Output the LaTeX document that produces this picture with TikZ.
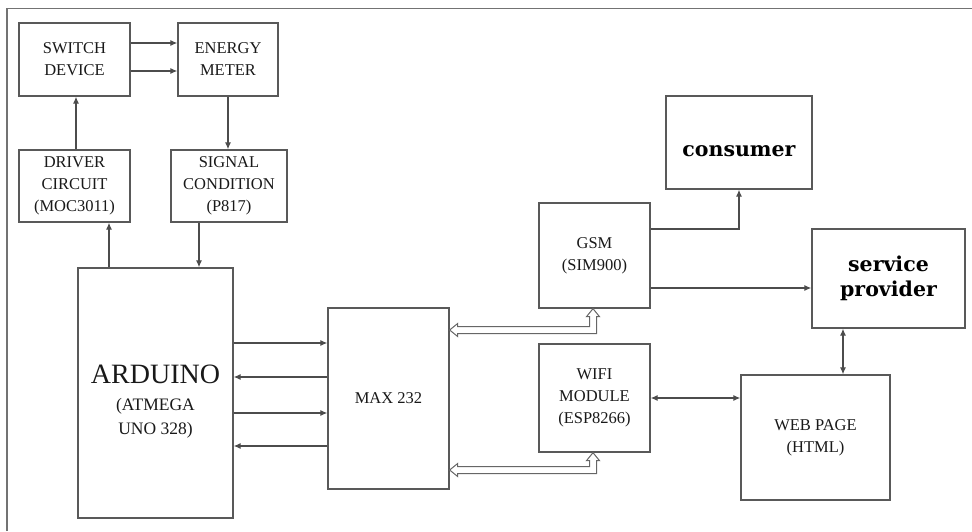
\documentclass[tikz,border=0pt]{standalone}
\usepackage{fontspec}
\setmainfont{Liberation Serif}
\newfontfamily\dvserif{DejaVu Serif}
\usetikzlibrary{arrows.meta,shadows,calc}
\begin{document}
\begin{tikzpicture}[x=1pt,y=-1pt,
  blk/.style={draw=black!65, line width=1.3pt, fill=white, align=center, inner sep=0pt,
    font=\fontsize{16.5}{22}\selectfont, text=black!90,
    drop shadow={shadow xshift=1.3pt, shadow yshift=-1.3pt, fill=black!25, opacity=1}},
  bigtxt/.style={font=\dvserif\bfseries\fontsize{20.5}{25}\selectfont, text=black},
  arr/.style={draw=black!70, line width=1.2pt, -{Latex[length=7pt,width=6pt]}},
  darr/.style={draw=black!70, line width=1.2pt, {Latex[length=7pt,width=6pt]}-{Latex[length=7pt,width=6pt]}},
  hollow/.style={draw=black!60, line width=1pt, fill=white, line join=miter},
  frame/.style={draw=black!55, line width=1.6pt}]
\useasboundingbox (0,0) rectangle (972,531);
% outer frame lines
\coordinate (fTL) at (7,8.5);
\coordinate (fTR) at (972,8.5);
\coordinate (fBL) at (7,531);
\draw[frame] (fBL) -- (fTL) -- (fTR);

% blocks
\node[blk, minimum width=111pt, minimum height=73pt] (switch) at (74.5,59.5) {SWITCH\\DEVICE};
\node[blk, minimum width=100pt, minimum height=73pt] (energy) at (228,59.5) {ENERGY\\METER};
\node[blk, minimum width=111pt, minimum height=72pt] (driver) at (74.5,186) {DRIVER\\CIRCUIT\\(MOC3011)};
\node[blk, minimum width=116pt, minimum height=72pt] (signal) at (229,186) {SIGNAL\\CONDITION\\(P817)};
\node[blk, minimum width=155pt, minimum height=250pt] (arduino) at (155.5,393)
  {\rule{0pt}{36pt}{\fontsize{28}{32}\selectfont ARDUINO}\\[5pt]{\fontsize{17.5}{25}\selectfont (ATMEGA}\\[2pt]{\fontsize{17.5}{25}\selectfont UNO 328)}};
\node[blk, minimum width=121pt, minimum height=181pt] (max) at (388.5,398.5) {MAX 232};
\node[blk, minimum width=111pt, minimum height=105pt] (gsm) at (594.5,255.5) {GSM\\(SIM900)};
\node[blk, minimum width=111pt, minimum height=108pt] (wifi) at (594.5,398) {WIFI\\MODULE\\(ESP8266)};
\node[blk, bigtxt, minimum width=146pt, minimum height=93pt] (consumer) at (739,142.5) {\rule{0pt}{29pt}consumer};
\node[blk, bigtxt, minimum width=153pt, minimum height=99pt] (service) at (888.5,278.5) {service\\provider};
\node[blk, minimum width=149pt, minimum height=125pt] (web) at (815.5,437.5) {WEB PAGE\\(HTML)};

% helper coordinates
\coordinate (ySE1) at (0,43);
\coordinate (ySE2) at (0,71);
\coordinate (xDS) at (76,0);
\coordinate (xDA) at (109,0);
\coordinate (xSA) at (199,0);
\coordinate (yAM1) at (0,343);
\coordinate (yAM2) at (0,377);
\coordinate (yAM3) at (0,413);
\coordinate (yAM4) at (0,446);
\coordinate (yMG) at (0,330);
\coordinate (yMW) at (0,470);
\coordinate (xMod) at (593,0);
\coordinate (yGC) at (0,229);
\coordinate (yGS) at (0,288);
\coordinate (xSW) at (843,0);

% connectors
\draw[arr] (switch.east |- ySE1) -- (energy.west |- ySE1);
\draw[arr] (switch.east |- ySE2) -- (energy.west |- ySE2);
\draw[arr] (driver.north -| xDS) -- (switch.south -| xDS);
\draw[arr] (energy.south) -- (energy.south |- signal.north);
\draw[arr] (arduino.north -| xDA) -- (driver.south -| xDA);
\draw[arr] (signal.south -| xSA) -- (arduino.north -| xSA);
\draw[arr] (arduino.east |- yAM1) -- (max.west |- yAM1);
\draw[arr] (max.west |- yAM2) -- (arduino.east |- yAM2);
\draw[arr] (arduino.east |- yAM3) -- (max.west |- yAM3);
\draw[arr] (max.west |- yAM4) -- (arduino.east |- yAM4);

% hollow double-headed bus arrows (MAX 232 <-> GSM, MAX 232 <-> WIFI)
\coordinate (sG) at (max.east |- yMG);
\coordinate (tG) at (gsm.south -| xMod);
\draw[hollow] (sG) -- ++(8,-6.5) -- ++(0,3) -- ($(xMod |- sG)+(-3.5,-3.5)$)
  -- ($(tG)+(-3.5,8)$) -- ++(-3,0) -- (tG) -- ($(tG)+(6.5,8)$) -- ++(-3,0)
  -- ($(xMod |- sG)+(3.5,3.5)$) -- ($(sG)+(8,3.5)$) -- ++(0,3) -- cycle;
\coordinate (sW) at (max.east |- yMW);
\coordinate (tW) at (wifi.south -| xMod);
\draw[hollow] (sW) -- ++(8,-6.5) -- ++(0,3) -- ($(xMod |- sW)+(-3.5,-3.5)$)
  -- ($(tW)+(-3.5,8)$) -- ++(-3,0) -- (tW) -- ($(tW)+(6.5,8)$) -- ++(-3,0)
  -- ($(xMod |- sW)+(3.5,3.5)$) -- ($(sW)+(8,3.5)$) -- ++(0,3) -- cycle;

\draw[arr] (gsm.east |- yGC) -| (consumer.south);
\draw[arr] (gsm.east |- yGS) -- (service.west |- yGS);
\draw[darr] (service.south -| xSW) -- (web.north -| xSW);
\draw[darr] (wifi.east) -- (web.west |- wifi.east);
\end{tikzpicture}
\end{document}
